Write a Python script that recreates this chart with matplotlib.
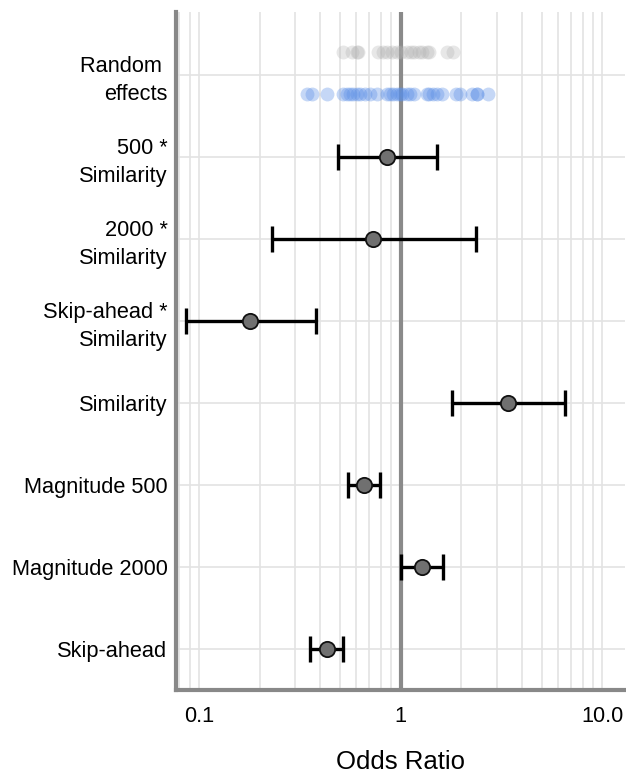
import numpy as np
import matplotlib.pyplot as plt
from matplotlib.ticker import FixedLocator, LogLocator, NullFormatter

plt.rcParams['font.family'] = ['Liberation Sans', 'DejaVu Sans']

# ============================================================
# DATA
# ============================================================

labels = ["Random \neffects", "500 *\nSimilarity", "2000 *\nSimilarity",
          "Skip-ahead *\nSimilarity", "Similarity", "Magnitude 500",
          "Magnitude 2000", "Skip-ahead"]

odds = [0.86, 0.73, 0.18, 3.39, 0.66, 1.28, 0.43]
ci_low = [0.49, 0.23, 0.086, 1.79, 0.55, 1.01, 0.355]
ci_high = [1.52, 2.35, 0.38, 6.56, 0.79, 1.63, 0.52]

re_gray = [0.516, 0.572, 0.606, 0.612, 0.769, 0.815, 0.853, 0.902, 0.955,
           1.01, 1.07, 1.13, 1.17, 1.24, 1.28, 1.35, 1.39, 1.69, 1.81]
re_blue = [0.343, 0.362, 0.430, 0.516, 0.541, 0.560, 0.578, 0.606, 0.627,
           0.663, 0.703, 0.760, 0.853, 0.882, 0.913, 0.955, 0.989, 1.02,
           1.07, 1.11, 1.17, 1.35, 1.39, 1.44, 1.51, 1.60, 1.89, 1.96,
           2.27, 2.38, 2.40, 2.70]

# ============================================================
# PLOT
# ============================================================

fig = plt.figure(figsize=(6.26, 7.75), dpi=100)
ax = fig.add_axes([0.281, 0.110, 0.717, 0.875])

ax.set_xscale("log")

# random effects dots
ax.plot(re_gray, np.full(len(re_gray), -0.28), "o", ms=10,
        color="#b0b0b0", alpha=0.3, mec="none", zorder=3)
ax.plot(re_blue, np.full(len(re_blue), 0.23), "o", ms=10,
        color="#5b8fe6", alpha=0.35, mec="none", zorder=3)

# fixed effects
rows = np.arange(1, len(odds) + 1)
odds = np.array(odds)
err = np.vstack([odds - np.array(ci_low), np.array(ci_high) - odds])
ax.errorbar(odds, rows, xerr=err, fmt="none", ecolor="black",
            elinewidth=2.4, capsize=9.7, capthick=2.4, zorder=4)
ax.plot(odds, rows, "o", ms=11, mfc="#707070", mec="#111111", mew=1.3,
        zorder=5)

ax.axvline(1, color="#8a8a8a", lw=3, zorder=2)

ax.set_xlim(0.077, 12.9)
ax.set_ylim(7.5, -0.77)

ax.set_yticks(range(len(labels)))
ax.set_yticklabels(labels, fontsize=15.7, ha="right", multialignment="right",
                   linespacing=1.4)
ax.xaxis.set_major_locator(FixedLocator([0.1, 1, 10]))
ax.set_xticklabels(["0.1", "1", "10.0"], fontsize=15.7)
ax.xaxis.set_minor_locator(LogLocator(base=10, subs=np.arange(2, 10)))
ax.xaxis.set_minor_formatter(NullFormatter())
ax.tick_params(axis="y", which="both", length=0, pad=6)
ax.tick_params(axis="x", which="both", length=0, pad=12)

ax.grid(True, which="both", axis="x", color="#e3e3e3", lw=1.2, zorder=0)
ax.grid(True, which="major", axis="y", color="#e3e3e3", lw=1.2, zorder=0)

for s in ["top", "right"]:
    ax.spines[s].set_visible(False)
for s in ["left", "bottom"]:
    ax.spines[s].set_color("#888888")
    ax.spines[s].set_linewidth(3)

ax.set_xlabel("Odds Ratio", fontsize=18.5, labelpad=16)

plt.savefig("out.png", dpi=100)
